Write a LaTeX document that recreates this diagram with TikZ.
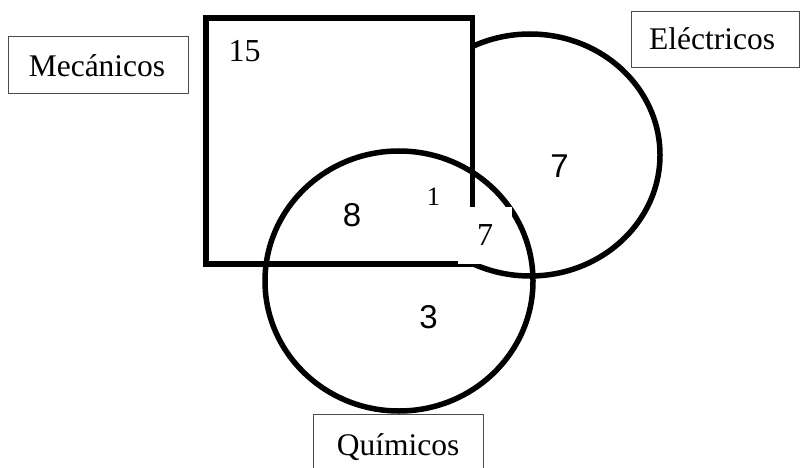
\documentclass[tikz,border=0pt]{standalone}
\usepackage{fontspec}
\setmainfont{Liberation Serif}
\newfontfamily\arialf{Liberation Sans}
\begin{document}
\begin{tikzpicture}[x=1pt,y=-1pt,
  shapeline/.style={line width=5.5pt},
  lbox/.style={draw=black!70, line width=1pt},
  lbl/.style={font=\fontsize{31.5}{36}\selectfont, anchor=base, inner sep=0pt},
  snum/.style={font=\arialf\fontsize{33}{38}\selectfont, anchor=base, inner sep=0pt}]
\useasboundingbox (0,0) rectangle (800,468);
% Electricos ellipse
\draw[shapeline] (530,155) ellipse [x radius=130pt, y radius=121pt];
% Mecanicos square
\draw[shapeline, fill=white] (206,18) rectangle (472.5,264);
% Quimicos circle
\draw[shapeline] (399,281) ellipse [x radius=134pt, y radius=130pt];
% white patch with 7
\node[fill=white, minimum width=54pt, minimum height=57pt, inner sep=0pt,
      font=\fontsize{32}{36}\selectfont] (p7) at (485,235.5) {7};
% label boxes
\draw[lbox] (8,37) rectangle (188,94);
\draw[lbox] (631,12) rectangle (799,68);
\draw[lbox] (313,414) rectangle (483,490);
\node[lbl] (mec) at (97,76.5) {Mecánicos};
\node[lbl] (ele) at (712,50) {Eléctricos};
\node[lbl] (qui) at (398,455) {Químicos};
% numbers
\node[lbl, font=\fontsize{32}{36}\selectfont] (n15) at (244.5,61.7) {15};
\node[lbl, font=\fontsize{26.5}{30}\selectfont] (n1) at (433.5,205) {1};
\node[snum] (n7) at (559.5,177) {7};
\node[snum] (n8) at (352,226) {8};
\node[snum] (n3) at (428.5,328) {3};
\end{tikzpicture}
\end{document}
